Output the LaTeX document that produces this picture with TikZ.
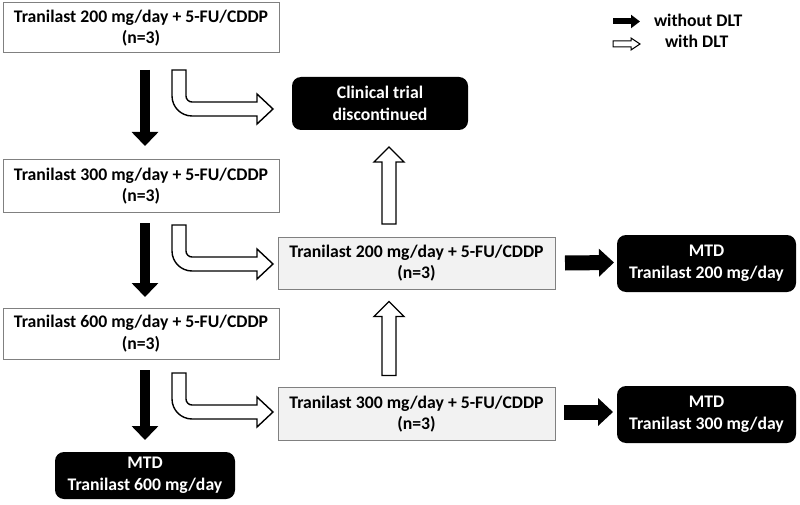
\documentclass[tikz,border=0pt]{standalone}
\usepackage{fontspec}
\setmainfont{Carlito}
\usetikzlibrary{arrows.meta,calc}
\definecolor{boxgray}{HTML}{F2F2F2}
\definecolor{edgegray}{HTML}{808080}
\tikzset{
  txt/.style={font=\bfseries\fontsize{17.7}{21.5}\selectfont, align=center, inner sep=0pt, outer sep=0pt},
  wbox/.style={txt, draw=edgegray, line width=1pt, fill=white},
  gbox/.style={txt, draw=edgegray, line width=1pt, fill=boxgray},
  kbox/.style={txt, fill=black, text=white, rounded corners=9pt},
  blk/.style={line width=10pt, -{Triangle[width=26pt,length=14pt]}},
  blkh/.style={line width=15pt, -{Triangle[width=27pt,length=15pt]}},
  hollow/.style={draw=black, fill=white, line width=1.4pt, line join=miter},
  bent/.pic={
    \path[hollow] (0,0) -- (0,26) .. controls (0,37) and (9,46) .. (20,46)
      -- (85,46) -- (85,54) -- (101,39) -- (85,24) -- (85,32) -- (20,32)
      .. controls (16.7,32) and (14,29.3) .. (14,26) -- (14,0) -- cycle;
  }
}
\begin{document}
\begin{tikzpicture}[x=1pt,y=-1pt]
\useasboundingbox (0,0) rectangle (800,505);
% left column
\node[wbox, minimum width=276pt, minimum height=50pt] (b1) at (141,28) {Tranilast 200 mg/day + 5-FU/CDDP\\(n=3)};
\node[wbox, minimum width=276pt, minimum height=52pt] (b2) at (141,186) {Tranilast 300 mg/day + 5-FU/CDDP\\(n=3)};
\node[wbox, minimum width=276pt, minimum height=51pt] (b3) at (141,333.5) {Tranilast 600 mg/day + 5-FU/CDDP\\(n=3)};
\node[kbox, minimum width=180pt, minimum height=47pt] (k600) at (145,475.5) {MTD\\Tranilast 600 mg/day};
% middle column
\node[kbox, minimum width=176pt, minimum height=53pt] (clin) at (380,103.5) {Clinical trial\\discontinued};
\node[gbox, minimum width=277pt, minimum height=52pt] (m1) at (416.5,263) {Tranilast 200 mg/day + 5-FU/CDDP\\(n=3)};
\node[gbox, minimum width=277pt, minimum height=53pt] (m2) at (416.5,414) {Tranilast 300 mg/day + 5-FU/CDDP\\(n=3)};
% right column
\node[kbox, minimum width=179pt, minimum height=57pt] (k200) at (706.5,263.5) {MTD\\Tranilast 200 mg/day};
\node[kbox, minimum width=179pt, minimum height=57pt] (k300) at (706.5,414.5) {MTD\\Tranilast 300 mg/day};
% black down arrows
\draw[blk] ($(b1.south)+(4,17)$) -- ($(b2.north)+(4,-14)$);
\draw[blk] ($(b2.south)+(4,11)$) -- ($(b3.north)+(4,-11)$);
\draw[blk] ($(b3.south)+(4,11)$) -- ($(k600.north)+(0,-12)$);
% black right arrows
\draw[blkh] ($(m1.east)+(10,0)$) -- ($(k200.west)+(-3,-1)$);
\draw[blkh] ($(m2.east)+(9,-2)$) -- ($(k300.west)+(-4,-2.5)$);
% bent hollow arrows
\coordinate (h1) at ($(b1.south west)+(169,17)$);
\coordinate (h2) at ($(b2.south west)+(169,13)$);
\coordinate (h3) at ($(b3.south west)+(169,14)$);
\pic at (h1) {bent};
\pic at (h2) {bent};
\pic at (h3) {bent};
% hollow up arrows
\coordinate (u1) at ($(m1.north)+(-27.5,-13)$);
\coordinate (u2) at ($(m2.north)+(-27.5,-12)$);
\path[hollow] (u1) ++(-7,0) -- ++(0,-62) -- ++(-8,0) -- ++(15,-15) -- ++(15,15) -- ++(-8,0) -- ++(0,62) -- cycle;
\path[hollow] (u2) ++(-7,0) -- ++(0,-59) -- ++(-8,0) -- ++(15,-15) -- ++(15,15) -- ++(-8,0) -- ++(0,59) -- cycle;
% legend
\coordinate (la) at (613,21.5);
\coordinate (lb) at (613,44);
\draw[line width=6pt, -{Triangle[width=13pt,length=9pt]}] (la) -- ++(27,0);
\path[hollow, line width=1pt] (lb) ++(0,-3) -- ++(18,0) -- ++(0,-3) -- ++(9,6) -- ++(-9,6) -- ++(0,-3) -- ++(-18,0) -- cycle;
\node[txt, anchor=base west] (lt1) at (654,26.5) {without DLT};
\node[txt, anchor=base west] (lt2) at (665,48) {with DLT};
\end{tikzpicture}
\end{document}
